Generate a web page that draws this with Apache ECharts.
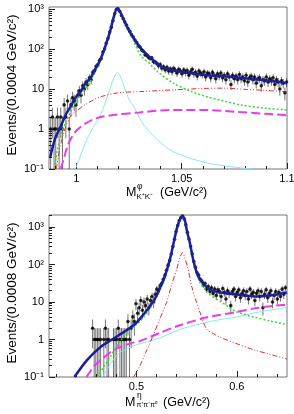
<!DOCTYPE html>
<html>
<head>
<meta charset="utf-8">
<script src="https://cdn.jsdelivr.net/npm/echarts@6/dist/echarts.min.js"></script>
<style>
html, body { margin: 0; padding: 0; background: #fff; }
#main { width: 294px; height: 414px; }
</style>
</head>
<body>
<div id="main"></div>
<script>
// ---- top panel: M(K+K-), events per 0.0004 GeV/c2 (shown every 0.0008)
const kkBinStart = 0.9878, kkBinStep = 0.0008;
const kkCounts = [
  1, 2, 1, 1, 2, 1, 2, 1, 4, 2, 5, 1, 4, 6, 5, 4,
  7, 9, 7, 12, 10, 15, 13, 19, 17, 26, 28, 37, 40, 52, 58,
  84, 100, 140, 182, 265, 350, 510, 760, 975, 1010, 880, 690, 570, 470, 395, 320, 275, 225, 200, 165,
  145, 120, 112, 95, 88, 72, 70, 62, 58, 60, 48, 47, 44, 38, 41, 33, 36, 30, 35, 28,
  32, 27, 33, 29, 25, 31, 28, 24, 30, 26,
  29, 22, 27, 31, 24, 26, 21, 28, 25, 23,
  27, 20, 25, 24, 19, 26, 22, 18, 24, 21,
  25, 19, 22, 17, 24, 20, 13, 22, 18, 21,
  17, 23, 18, 20, 16, 22, 15, 19, 21, 17,
  20, 14, 18, 19, 12, 17, 16, 20, 15, 18,
  16, 19, 13, 17, 15, 10, 16, 14, 8, 15
];
const kkTotal = [[0.9876,0.2],[0.99,0.6],[0.9924,1.1],[0.9948,2.2],[0.9971,3.5],[0.9995,6],[1.0019,8.5],[1.0043,14],[1.0067,19],[1.009,32],[1.0114,55],[1.0138,120],[1.0162,300],[1.0176,600],[1.0194,1050],[1.021,800],[1.0224,560],[1.0238,380],[1.0257,250],[1.0281,160],[1.0305,105],[1.0352,60],[1.04,37],[1.0448,30],[1.0495,27],[1.0567,24],[1.0622,22],[1.0686,21],[1.0781,19],[1.0876,17],[1.1,14]];
const kkGreen = [[0.9895,0.1],[0.991,0.3],[0.993,0.8],[0.995,1.5],[0.997,2.5],[0.999,4],[1.001,6],[1.004,10],[1.007,17],[1.01,35],[1.013,80],[1.016,250],[1.018,600],[1.0194,1000],[1.021,780],[1.023,480],[1.026,220],[1.0305,70],[1.035,42],[1.0386,27],[1.046,14],[1.055,8.5],[1.0624,6.3],[1.07,5],[1.078,4],[1.09,3.3],[1.1,3]];
const kkRed = [[0.9905,0.1],[0.992,0.3],[0.994,0.8],[0.997,2],[1.0,2.8],[1.004,4],[1.008,5.3],[1.012,6.5],[1.0195,8],[1.03,8.6],[1.046,9.5],[1.06,10.3],[1.07,10.5],[1.08,9.8],[1.09,9.2],[1.1,8.5]];
const kkMagenta = [[0.9925,0.1],[0.994,0.18],[0.996,0.4],[0.998,0.65],[1.0,0.9],[1.004,1.35],[1.01,1.9],[1.0195,2.3],[1.03,2.6],[1.045,3.0],[1.06,3.0],[1.075,2.7],[1.09,2.4],[1.1,2.2]];
const kkCyan = [[0.9995,0.1],[1.002,0.22],[1.005,0.55],[1.008,1.1],[1.011,2],[1.014,5],[1.0162,11],[1.0178,19],[1.0195,26],[1.0212,19],[1.0228,11],[1.025,5.5],[1.0273,3.6],[1.031,1.5],[1.034,0.95],[1.0386,0.53],[1.046,0.27],[1.0624,0.14],[1.083,0.1]];

// ---- bottom panel: M(pi+pi-pi0), events per 0.0008 GeV/c2 (shown every 0.0016)
const etaBinStart = 0.4148, etaBinStep = 0.0016;
const etaCounts = [
  null, null, null, null, null, null, null, null, null, null, null, null, null,
  null, null, null, null, null, null, null, null, null, null, null, null, null,
  2, 1, 1, 1, 1, 1, null, 1, 2, 1, 1, null, null, 1, 1, 1, 2, 1, 1, 1, 1, 1,
  3, 1, 2, 4, 3, 9, 5, 7, 11, 6, 10, 8, 12, 7, 11, 14, 10, 16, 22, 20, 27, 31,
  40, 52, 70, 96, 128, 190, 300, 470, 760, 1100, 1480, 1800, 1960, 1650, 1150,
  720, 480, 300, 190, 120, 85, 60, 52, 40, 36, 29, 31, 22, 26, 19,
  24, 17, 22, 15, 21, 19, 14, 23, 18, 12, 20, 17, 8, 19, 22, 14, 18, 21, 13, 17,
  20, 15, 19, 12, 22, 16, 18, 11, 17, 20, 14, 19, 7, 16, 21, 13, 17, 20, 10, 15,
  19, 12, 18, 14, 22, 16, 24
];
const etaTotal = [[0.4383,0.1],[0.4513,0.29],[0.465,0.65],[0.4783,1.1],[0.4913,1.85],[0.5,2.8],[0.505,4],[0.5093,5.5],[0.5133,7.6],[0.5183,12],[0.5233,23],[0.5283,48],[0.5333,135],[0.5373,400],[0.54,850],[0.5428,1500],[0.546,1950],[0.5483,1500],[0.5508,700],[0.5533,380],[0.5566,135],[0.5598,65],[0.5633,40],[0.5683,28],[0.5733,21],[0.5833,18],[0.5983,16],[0.6183,14],[0.6333,15],[0.65,18]];
const etaGreen = [[0.4613,0.1],[0.4683,0.2],[0.4753,0.4],[0.4833,0.85],[0.4913,1.6],[0.5,2.5],[0.5053,3.4],[0.5133,6.5],[0.5233,20],[0.5283,42],[0.5333,120],[0.54,780],[0.546,1850],[0.5508,640],[0.5566,118],[0.5633,33],[0.5683,22],[0.5733,17],[0.5783,13],[0.5833,10.5],[0.5913,7.5],[0.5983,5.7],[0.6083,4.6],[0.6183,3.9],[0.6333,3.1],[0.65,2.5]];
const etaRed = [[0.4973,0.1],[0.5033,0.19],[0.5093,0.45],[0.5163,1.2],[0.5233,3.5],[0.53,9.7],[0.5353,30],[0.54,73],[0.5433,150],[0.546,210],[0.5483,150],[0.5516,73],[0.5553,25],[0.56,9.7],[0.5643,4.5],[0.57,1.9],[0.5783,1.35],[0.5833,1.15],[0.5983,0.8],[0.6183,0.52],[0.6333,0.4],[0.65,0.3]];
const etaMagenta = [[0.4503,0.1],[0.4583,0.2],[0.465,0.29],[0.4783,0.54],[0.495,0.8],[0.5033,0.9],[0.5233,1.5],[0.5433,2.4],[0.57,3.9],[0.5783,4.3],[0.5983,5.3],[0.6183,6.8],[0.6333,7.7],[0.65,8.6]];
const etaCyan = [[0.4663,0.1],[0.4733,0.2],[0.4813,0.4],[0.4913,0.58],[0.5,0.72],[0.5233,1.1],[0.5433,1.85],[0.5633,2.6],[0.5833,3.4],[0.5983,3.9],[0.6183,5.2],[0.65,7.1]];

// ---- tick labels
const yTicks = [0.1, 1, 10, 100, 1000];
const yTickText = ['10⁻¹', '1', '10', '10²', '10³'];
const kkTicks = [1, 1.05, 1.1];
const kkTickText = ['1', '1.05', '1.1'];
const kkMinor = [0.99, 1.01, 1.02, 1.03, 1.04, 1.06, 1.07, 1.08, 1.09];
const etaTicks = [0.5, 0.6];
const etaTickText = ['0.5', '0.6'];
const etaMinor = [0.42, 0.44, 0.46, 0.48, 0.52, 0.54, 0.56, 0.58, 0.62, 0.64];

const FONT = "'Liberation Sans', Arial, Helvetica, sans-serif";

// log minor ticks 2..9 in every decade
const yMinor = [];
[0.1, 1, 10, 100, 1000].forEach(d => { for (let k = 2; k <= 9; k++) yMinor.push(+(d * k).toPrecision(3)); });

function hist(start, step, counts) {
  const out = [];
  counts.forEach((n, i) => {
    if (n == null) return;
    out.push([+(start + step * i).toFixed(5), n, Math.sqrt(n)]);
  });
  return out;
}
const kkPoints = hist(kkBinStart, kkBinStep, kkCounts);
const etaPoints = hist(etaBinStart, etaBinStep, etaCounts);

function xMajor(grid, min, max, ticks, texts) {
  return {
    type: 'value', gridIndex: grid, min: min, max: max, position: 'bottom',
    axisLine: { show: false }, splitLine: { show: false },
    axisTick: { show: true, inside: true, length: 6, customValues: ticks, lineStyle: { color: '#222' } },
    axisLabel: {
      show: true, customValues: ticks, margin: 4, fontSize: 11, color: '#000', fontFamily: FONT,
      formatter: v => texts[ticks.findIndex(t => Math.abs(t - v) < 1e-6)] || ''
    }
  };
}
function xMinor(grid, min, max, ticks) {
  return {
    type: 'value', gridIndex: grid, min: min, max: max, position: 'bottom',
    axisLine: { show: false }, splitLine: { show: false }, axisLabel: { show: false },
    axisTick: { show: true, inside: true, length: 3, customValues: ticks, lineStyle: { color: '#222' } }
  };
}
function yMajor(grid, max) {
  return {
    type: 'log', logBase: 10, gridIndex: grid, min: 0.0999, max: max, position: 'left',
    axisLine: { show: false }, splitLine: { show: false },
    axisTick: { show: true, inside: true, length: 6, customValues: yTicks, lineStyle: { color: '#222' } },
    axisLabel: {
      show: true, customValues: yTicks, margin: 5, fontSize: 11, color: '#000', fontFamily: FONT,
      formatter: v => yTickText[Math.round(Math.log10(v)) + 1]
    }
  };
}
function yMinorAxis(grid, max) {
  return {
    type: 'log', logBase: 10, gridIndex: grid, min: 0.0999, max: max, position: 'left',
    axisLine: { show: false }, splitLine: { show: false }, axisLabel: { show: false },
    axisTick: { show: true, inside: true, length: 3, customValues: yMinor.filter(v => v < max), lineStyle: { color: '#222' } }
  };
}

function errorBars(halfBin) {
  return function (params, api) {
    const m = api.value(0), n = api.value(1), e = api.value(2);
    const top = api.coord([m, n + e]);
    const bot = api.coord([m, Math.max(n - e, 0.02)]);
    const l = api.coord([m - halfBin, n]);
    const r = api.coord([m + halfBin, n]);
    const style = { stroke: 'rgba(0,0,0,0.55)', lineWidth: 1 };
    return {
      type: 'group', children: [
        { type: 'line', shape: { x1: top[0], y1: top[1], x2: bot[0], y2: bot[1] }, style: style },
        { type: 'line', shape: { x1: l[0], y1: l[1], x2: r[0], y2: r[1] }, style: style }
      ]
    };
  };
}

function curve(axis, data, color, width, type, z) {
  return {
    type: 'line', xAxisIndex: axis, yAxisIndex: axis, data: data,
    showSymbol: false, smooth: 0.3, clip: true, silent: true, z: z,
    lineStyle: { color: color, width: width, type: type }
  };
}

function panel(axis, points, halfBin, total, green, red, magenta, cyan) {
  return [
    { type: 'custom', xAxisIndex: axis, yAxisIndex: axis, data: points, renderItem: errorBars(halfBin),
      encode: { x: 0, y: 1 }, clip: true, silent: true, z: 1 },
    { type: 'scatter', xAxisIndex: axis, yAxisIndex: axis, data: points.map(p => [p[0], p[1]]),
      symbol: 'circle', symbolSize: 3.6, itemStyle: { color: '#000' }, silent: true, z: 2 },
    curve(axis, cyan, '#8ae8ea', 1, 'solid', 3),
    curve(axis, magenta, '#e83ce8', 2, [9, 4], 3),
    curve(axis, red, '#e82a2a', 1, [5, 2, 1, 2, 1, 2], 3),
    curve(axis, green, '#3ad63a', 1.5, [2, 2], 3),
    curve(axis, total, '#1c1f9c', 2.5, 'solid', 4)
  ];
}

const chart = echarts.init(document.getElementById('main'), null, { renderer: 'canvas' });
chart.setOption({
  animation: false,
  backgroundColor: '#fff',
  grid: [
    { left: 49, top: 7, width: 238, height: 162, show: true, borderColor: '#777', borderWidth: 1, backgroundColor: 'transparent', outerBoundsMode: 'none' },
    { left: 49, top: 215, width: 238, height: 162, show: true, borderColor: '#777', borderWidth: 1, backgroundColor: 'transparent', outerBoundsMode: 'none' }
  ],
  xAxis: [
    xMajor(0, 0.987, 1.1, kkTicks, kkTickText),
    xMinor(0, 0.987, 1.1, kkMinor),
    xMajor(1, 0.413, 0.65, etaTicks, etaTickText),
    xMinor(1, 0.413, 0.65, etaMinor)
  ],
  yAxis: [
    yMajor(0, 1122),
    yMinorAxis(0, 1122),
    yMajor(1, 2090),
    yMinorAxis(1, 2090)
  ],
  series: [].concat(
    panel(0, kkPoints, kkBinStep / 2, kkTotal, kkGreen, kkRed, kkMagenta, kkCyan),
    panel(2, etaPoints, etaBinStep / 2, etaTotal, etaGreen, etaRed, etaMagenta, etaCyan)
  ),
  graphic: [
    { type: 'text', x: 12.5, y: 85, rotation: Math.PI / 2,
      style: { text: 'Events/(0.0004 GeV/c²)', font: '13.5px ' + FONT, fill: '#000', align: 'center', verticalAlign: 'middle' } },
    { type: 'text', x: 12.5, y: 293, rotation: Math.PI / 2,
      style: { text: 'Events/(0.0008 GeV/c²)', font: '13.5px ' + FONT, fill: '#000', align: 'center', verticalAlign: 'middle' } },
    { type: 'text', x: 126, y: 193, style: { text: 'M', font: '12.5px ' + FONT, fill: '#000', align: 'left', verticalAlign: 'middle' } },
    { type: 'text', x: 137, y: 186.5, style: { text: 'φ', font: '8.5px ' + FONT, fill: '#000', align: 'left', verticalAlign: 'middle' } },
    { type: 'text', x: 136.5, y: 196.5, style: { text: 'K⁺K⁻', font: '8px ' + FONT, fill: '#000', align: 'left', verticalAlign: 'middle' } },
    { type: 'text', x: 160, y: 193, style: { text: '(GeV/c²)', font: '12.5px ' + FONT, fill: '#000', align: 'left', verticalAlign: 'middle' } },
    { type: 'text', x: 125, y: 402.5, style: { text: 'M', font: '12.5px ' + FONT, fill: '#000', align: 'left', verticalAlign: 'middle' } },
    { type: 'text', x: 137, y: 396, style: { text: 'η', font: '8.5px ' + FONT, fill: '#000', align: 'left', verticalAlign: 'middle' } },
    { type: 'text', x: 136.5, y: 405.5, style: { text: 'π⁺π⁻π⁰', font: '7px ' + FONT, fill: '#000', align: 'left', verticalAlign: 'middle' } },
    { type: 'text', x: 163, y: 402.5, style: { text: '(GeV/c²)', font: '12.5px ' + FONT, fill: '#000', align: 'left', verticalAlign: 'middle' } }
  ]
});
</script>
</body>
</html>
